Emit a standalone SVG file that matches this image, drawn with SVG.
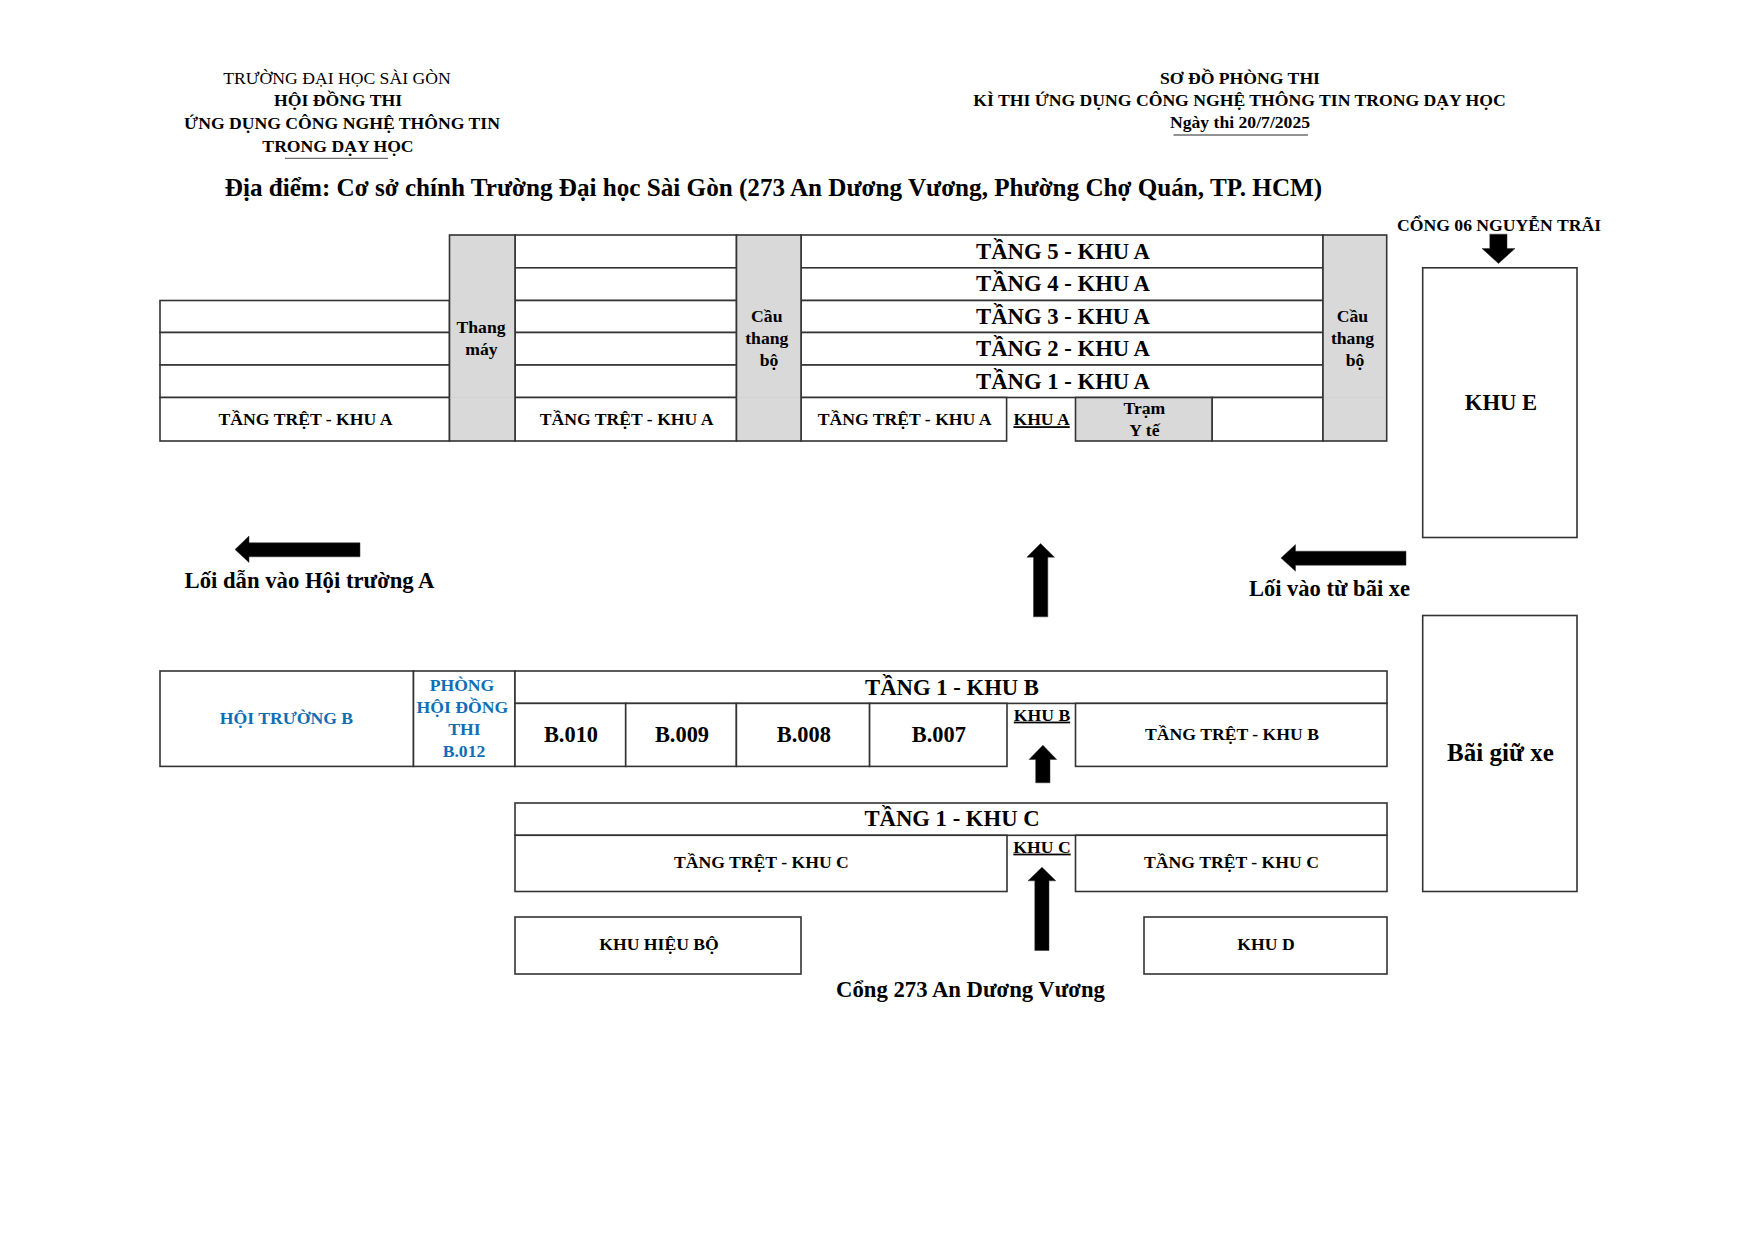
<svg xmlns="http://www.w3.org/2000/svg" width="1754" height="1240" viewBox="0 0 1754 1240">
<style>
text{font-family:"Liberation Serif","Times New Roman",serif;font-weight:700;fill:#000;text-anchor:middle}
.c{fill:#fff;stroke:#333;stroke-width:1.6}
.g{fill:#d9d9d9;stroke:#333;stroke-width:1.6}
.s{font-size:17.65px}
.l{font-size:22.7px}
.u{text-decoration:underline}
.b{fill:#0f6eb4}
.a{fill:#000;stroke:#333;stroke-width:.5}
.r{stroke:#6e6e6e;stroke-width:1.3;fill:none}
.f{stroke:#d2d2d2;stroke-width:1;fill:none}
</style>
<rect width="1754" height="1240" fill="#fff"/>
<g id="header">
<text x="337" y="84" class="s" style="font-weight:400">TRƯỜNG ĐẠI HỌC SÀI GÒN</text>
<text x="338" y="106" class="s">HỘI ĐỒNG THI</text>
<text x="342" y="129" class="s">ỨNG DỤNG CÔNG NGHỆ THÔNG TIN</text>
<text x="338" y="151.5" class="s">TRONG DẠY HỌC</text>
<line class="r" x1="285" y1="158.3" x2="388" y2="158.3"/>
<text x="1240" y="83.5" class="s">SƠ ĐỒ PHÒNG THI</text>
<text x="1239.5" y="105.5" class="s">KÌ THI ỨNG DỤNG CÔNG NGHỆ THÔNG TIN TRONG DẠY HỌC</text>
<text x="1240" y="127.5" class="s">Ngày thi 20/7/2025</text>
<line class="r" x1="1173.5" y1="135" x2="1308" y2="135"/>
<text x="773.5" y="196" style="font-size:25.15px">Địa điểm: Cơ sở chính Trường Đại học Sài Gòn (273 An Dương Vương, Phường Chợ Quán, TP. HCM)</text>
</g>
<g id="khu-a">
<rect class="c" x="160" y="300.5" width="289.5" height="32"/>
<rect class="c" x="160" y="332.5" width="289.5" height="32.5"/>
<rect class="c" x="160" y="365" width="289.5" height="32.5"/>
<rect class="c" x="160" y="397.5" width="289.5" height="43.5"/>
<rect class="c" x="515" y="235" width="221.5" height="32.8"/>
<rect class="c" x="515" y="267.8" width="221.5" height="32.7"/>
<rect class="c" x="515" y="300.5" width="221.5" height="32"/>
<rect class="c" x="515" y="332.5" width="221.5" height="32.5"/>
<rect class="c" x="515" y="365" width="221.5" height="32.5"/>
<rect class="c" x="515" y="397.5" width="221.5" height="43.5"/>
<rect class="c" x="801" y="235" width="522" height="32.8"/>
<rect class="c" x="801" y="267.8" width="522" height="32.7"/>
<rect class="c" x="801" y="300.5" width="522" height="32"/>
<rect class="c" x="801" y="332.5" width="522" height="32.5"/>
<rect class="c" x="801" y="365" width="522" height="32.5"/>
<rect class="c" x="801" y="397.5" width="205.6" height="43.5"/>
<rect class="c" x="1212" y="397.5" width="111" height="43.5"/>
<rect class="g" x="1075.5" y="397.5" width="136.5" height="43.5"/>
<rect class="g" x="449.5" y="235" width="65.5" height="206"/>
<rect class="g" x="736.5" y="235" width="64.5" height="206"/>
<rect class="g" x="1323" y="235" width="63.7" height="206"/>
<line class="f" x1="450.5" y1="397.5" x2="514" y2="397.5"/>
<line class="f" x1="737.5" y1="397.5" x2="800" y2="397.5"/>
<line class="f" x1="1324" y1="397.5" x2="1385.7" y2="397.5"/>
<text x="481" y="332.8" class="s">Thang</text>
<text x="481.5" y="355" class="s">máy</text>
<text x="766.8" y="322" class="s">Cầu</text>
<text x="766.8" y="344" class="s">thang</text>
<text x="769" y="366" class="s">bộ</text>
<text x="1352.5" y="322" class="s">Cầu</text>
<text x="1352.5" y="344" class="s">thang</text>
<text x="1355" y="366" class="s">bộ</text>
<text x="1063" y="259.3" class="l">TẦNG 5 - KHU A</text>
<text x="1063" y="291.3" class="l">TẦNG 4 - KHU A</text>
<text x="1063" y="324.3" class="l">TẦNG 3 - KHU A</text>
<text x="1063" y="356.3" class="l">TẦNG 2 - KHU A</text>
<text x="1063" y="388.8" class="l">TẦNG 1 - KHU A</text>
<text x="305.5" y="425.2" class="s">TẦNG TRỆT - KHU A</text>
<text x="626.6" y="425.2" class="s">TẦNG TRỆT - KHU A</text>
<text x="904.6" y="425.2" class="s">TẦNG TRỆT - KHU A</text>
<text x="1041.6" y="425.2" class="s u">KHU A</text>
<text x="1144.4" y="413.5" class="s">Trạm</text>
<text x="1144.4" y="435.5" class="s">Y tế</text>
</g>
<g id="khu-e">
<rect class="c" x="1422.7" y="267.8" width="154.3" height="269.7"/>
<text x="1501" y="410" class="l">KHU E</text>
</g>
<g id="bai-giu-xe">
<rect class="c" x="1422.7" y="615.5" width="154.3" height="276"/>
<text x="1500.4" y="760.5" style="font-size:25px">Bãi giữ xe</text>
</g>
<g id="khu-b">
<rect class="c" x="160" y="671" width="253.5" height="95.4"/>
<rect class="c" x="413.5" y="671" width="101.5" height="95.4"/>
<rect class="c" x="515" y="671" width="872" height="32.4"/>
<rect class="c" x="515" y="703.4" width="110.7" height="63"/>
<rect class="c" x="625.7" y="703.4" width="110.7" height="63"/>
<rect class="c" x="736.4" y="703.4" width="133.2" height="63"/>
<rect class="c" x="869.6" y="703.4" width="137.4" height="63"/>
<rect class="c" x="1075.5" y="703.4" width="311.5" height="63"/>
<text x="286.4" y="724" class="s b">HỘI TRƯỜNG B</text>
<text x="462" y="691.2" class="s b">PHÒNG</text>
<text x="462.4" y="713.2" class="s b">HỘI ĐỒNG</text>
<text x="464.5" y="735.2" class="s b">THI</text>
<text x="464" y="757.2" class="s b">B.012</text>
<text x="952" y="694.5" class="l">TẦNG 1 - KHU B</text>
<text x="571" y="742.3" style="font-size:22.4px">B.010</text>
<text x="682" y="742.3" style="font-size:22.4px">B.009</text>
<text x="803.8" y="742.3" style="font-size:22.4px">B.008</text>
<text x="938.8" y="742.3" style="font-size:22.4px">B.007</text>
<text x="1042" y="720.6" class="s u">KHU B</text>
<text x="1232" y="740.3" class="s">TẦNG TRỆT - KHU B</text>
</g>
<g id="khu-c">
<rect class="c" x="515" y="803" width="872" height="32.3"/>
<rect class="c" x="515" y="835.3" width="492" height="56.2"/>
<rect class="c" x="1075.5" y="835.3" width="311.5" height="56.2"/>
<text x="952" y="826.2" class="l">TẦNG 1 - KHU C</text>
<text x="761.4" y="868.3" class="s">TẦNG TRỆT - KHU C</text>
<text x="1042" y="852.6" class="s u">KHU C</text>
<text x="1231.5" y="868.3" class="s">TẦNG TRỆT - KHU C</text>
</g>
<g id="khu-hieu-bo">
<rect class="c" x="515" y="917" width="286" height="57"/>
<text x="659" y="950.3" class="s">KHU HIỆU BỘ</text>
</g>
<g id="khu-d">
<rect class="c" x="1144" y="917" width="243" height="57"/>
<text x="1266" y="950.3" class="s">KHU D</text>
</g>
<g id="labels">
<text x="1499" y="230.6" class="s">CỔNG 06 NGUYỄN TRÃI</text>
<text x="309.5" y="588.4" class="l">Lối dẫn vào Hội trường A</text>
<text x="1329.5" y="596.4" class="l" style="font-size:22.5px">Lối vào từ bãi xe</text>
<text x="970.5" y="997.4" class="l">Cổng 273 An Dương Vương</text>
</g>
<g id="connectors">
<polygon class="a" points="235,549.5 249,536 249,542.8 360,542.8 360,556.8 249,556.8 249,562.5"/>
<polygon class="a" points="1281,558 1295.5,544.5 1295.5,551.2 1406,551.2 1406,565.2 1295.5,565.2 1295.5,571.2"/>
<polygon class="a" points="1040.6,543.5 1054.5,557.2 1047.8,557.2 1047.8,616.8 1033.5,616.8 1033.5,557.2 1026.8,557.2"/>
<polygon class="a" points="1042.9,745.2 1056.7,759.5 1050,759.5 1050,782.8 1035.7,782.8 1035.7,759.5 1029,759.5"/>
<polygon class="a" points="1042,867.2 1055.8,880.8 1049,880.8 1049,950.5 1034.8,950.5 1034.8,880.8 1028,880.8"/>
<polygon class="a" points="1498.5,263.5 1515,248.5 1507,248.5 1507,234.2 1489.8,234.2 1489.8,248.5 1482,248.5"/>
</g>
</svg>
